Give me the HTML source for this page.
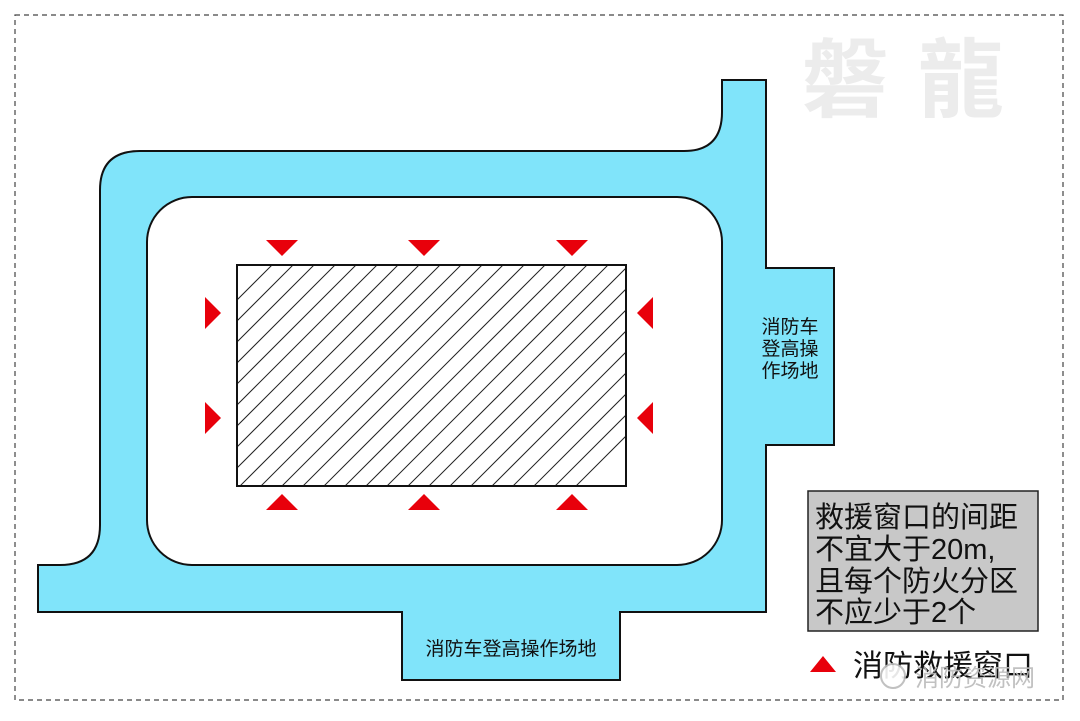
<!DOCTYPE html>
<html><head><meta charset="utf-8"><style>html,body{margin:0;padding:0;background:#fff;width:1080px;height:721px;overflow:hidden}svg{display:block}</style></head><body>
<svg width="1080" height="721" viewBox="0 0 1080 721" xmlns="http://www.w3.org/2000/svg" font-family="Liberation Sans, Noto Sans CJK SC, sans-serif">
<defs>
<clipPath id="b"><rect x="237" y="265" width="389" height="221"/></clipPath>
</defs>
<rect x="15" y="15" width="1048" height="685" fill="none" stroke="#444" stroke-width="1.2" stroke-dasharray="5,4"/>
<text x="918" y="110" font-size="86" fill="#ececec" text-anchor="middle" font-weight="bold" letter-spacing="30">磐龍</text>
<path d="M100 190 Q100 151 140 151 L684 151 Q722 151 722 112 L722 80 L766 80 L766 268 L834 268 L834 445 L766 445 L766 612 L620 612 L620 680 L402 680 L402 612 L38 612 L38 565 L60 565 Q100 565 100 525 Z" fill="#80e4fa" stroke="#111" stroke-width="2"/>
<rect x="147" y="197" width="575" height="368" rx="45" fill="#fff" stroke="#111" stroke-width="2"/>
<rect x="237" y="265" width="389" height="221" fill="#fff"/>
<g clip-path="url(#b)" stroke="#222" stroke-width="1">
<path d="M237 300 L272 265 M237 321 L293 265 M237 342 L314 265 M237 363 L335 265 M237 384 L356 265 M237 405 L377 265 M237 426 L398 265 M237 447 L419 265 M237 468 L440 265 M237 489 L461 265 M237 510 L482 265 M237 531 L503 265 M237 552 L524 265 M237 573 L545 265 M237 594 L566 265 M237 615 L587 265 M237 636 L608 265 M237 657 L629 265 M237 678 L650 265 M237 699 L671 265 M237 720 L692 265 M237 741 L713 265 M237 762 L734 265 M237 783 L755 265 M237 804 L776 265 M237 825 L797 265"/>
</g>
<rect x="237" y="265" width="389" height="221" fill="none" stroke="#111" stroke-width="2"/>
<g fill="#e8000b">
<path d="M266 240 L298 240 L282 256Z M408 240 L440 240 L424 256Z M556 240 L588 240 L572 256Z"/>
<path d="M266 510 L298 510 L282 494Z M408 510 L440 510 L424 494Z M556 510 L588 510 L572 494Z"/>
<path d="M205 297 L221 313 L205 329Z M205 402 L221 418 L205 434Z"/>
<path d="M653 297 L637 313 L653 329Z M653 402 L637 418 L653 434Z"/>
<path d="M810 672 L823 656 L836 672Z"/>
</g>
<g font-size="19" fill="#111" text-anchor="middle">
<text x="790" y="333">消防车</text>
<text x="790" y="355">登高操</text>
<text x="790" y="377">作场地</text>
<text x="511" y="655">消防车登高操作场地</text>
</g>
<rect x="808" y="491" width="230" height="140" fill="#c8c8c8" stroke="#222" stroke-width="1.5"/>
<g font-size="29" fill="#111">
<text x="815" y="527">救援窗口的间距</text>
<text x="815" y="559">不宜大于20m,</text>
<text x="815" y="591">且每个防火分区</text>
<text x="815" y="622">不应少于2个</text>
</g>
<text x="853" y="676" font-size="30" fill="#111">消防救援窗口</text>
<text x="915" y="686" font-size="24" fill="#bbb" opacity="0.9">消防资源网</text>
<circle cx="893" cy="676" r="12" fill="#fff" stroke="#bbb" stroke-width="2" opacity="0.9"/>
</svg>
</body></html>
